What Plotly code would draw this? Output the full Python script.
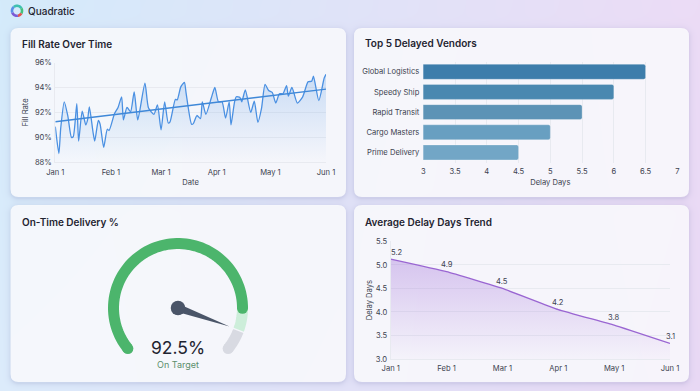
import base64, struct, zlib, math
from datetime import date, timedelta
import numpy as np
import plotly.graph_objects as go

# ---------- data ----------
fill_days = [0,2,3,5,7,9,10,12,13,15,17,18,19,21,22,24,25,27,29,30,33,35,37,38,40,42,44,46,50,52,55,57,59,61,63,64,67,68,70,72,73,76,77,79,81,82,84,87,89,91,93,95,97,98,100,101,103,104,106,109,111,113,115,117,119,121,123,125,127,129,130,132,135,138,141,143,144,147,150,151]
fill_rate = [90.86,88.7,90.7,92.85,91.7,90.0,90.05,92.7,89.7,92.1,91.0,91.4,92.45,90.45,89.7,91.35,91.05,89.2,90.65,90.55,91.9,92.4,93.25,91.4,92.4,92.05,93.65,91.4,94.35,92.35,91.85,92.6,90.6,92.85,91.15,91.25,93.05,93.0,94.05,94.4,93.5,91.05,91.1,91.75,91.5,92.85,91.85,93.15,94.0,92.85,92.85,91.55,92.85,91.0,92.85,93.25,93.2,92.85,93.8,92.0,92.9,91.2,92.3,94.25,93.75,93.6,92.75,93.5,93.5,94.15,93.3,94.0,92.75,93.25,94.45,94.5,94.9,92.95,94.75,95.05]
trend_days = [0, 151]
trend_rate = [91.25, 93.87]
fill_ticks = ["Jan 1", "Feb 1", "Mar 1", "Apr 1", "May 1", "Jun 1"]
fill_tickdays = [0, 31, 59, 90, 120, 151]
fill_yticks = [88, 90, 92, 94, 96]

vendors = ["Global Logistics", "Speedy Ship", "Rapid Transit", "Cargo Masters", "Prime Delivery"]
vendor_delay = [6.5, 6.0, 5.5, 5.0, 4.5]
vendor_colors = ["#3d7dab", "#4a88b0", "#5c93b6", "#689fc1", "#72a6c6"]
delay_xticks = [3, 3.5, 4, 4.5, 5, 5.5, 6, 6.5, 7]
delay_xlabels = ["3", "3.5", "4", "4.5", "5", "5.5", "6", "6.5", "7"]

gauge_value = 92.5
gauge_green_limit = 85

months = ["Jan 1", "Feb 1", "Mar 1", "Apr 1", "May 1", "Jun 1"]
trend_values = [5.12, 4.855, 4.5, 4.05, 3.72, 3.33]
trend_labels = ["5.2", "4.9", "4.5", "4.2", "3.8", "3.1"]
trend_yticks = [3.0, 3.5, 4.0, 4.5, 5.0, 5.5]

# ---------- helpers ----------
W, H = 700, 391
INK, TICK = "#1f2430", "#3d4350"
GRID = "#e8eaf0"
FONT = "Inter"
TICKSIZE = 7.6
def px(x): return x / W
def py(y): return 1 - y / H

CARDS = [(10.5, 28, 346, 197), (354, 28, 689, 197), (10.5, 205, 346, 382), (354, 205, 689, 382)]

def background_png():
    xs = np.linspace(0, 1, W)[None, :, None]
    ys = np.linspace(0, 1, H)[:, None, None]
    tl, tr = np.array([212, 235, 251.]), np.array([236, 220, 246.])
    bl, br = np.array([221, 236, 252.]), np.array([233, 217, 245.])
    img = (1-ys)*((1-xs)*tl + xs*tr) + ys*((1-xs)*bl + xs*br)
    X, Y = np.meshgrid(np.arange(W)+.5, np.arange(H)+.5)
    shadow_col = np.array([120, 125, 175.])
    for x0, y0, x1, y1 in CARDS:
        cx, cy, hw, hh = (x0+x1)/2, (y0+y1)/2 + 1.5, (x1-x0)/2, (y1-y0)/2
        dx = np.abs(X-cx)-hw+8; dy = np.abs(Y-cy)-hh+8
        sd = np.hypot(np.maximum(dx, 0), np.maximum(dy, 0)) + np.minimum(np.maximum(dx, dy), 0) - 8
        a = (0.18*np.exp(-np.maximum(sd, 0)/2.5))[:, :, None]
        img = img*(1-a) + shadow_col*a
    img = img.clip(0, 255).astype(np.uint8)
    raw = b"".join(b"\x00"+img[r].tobytes() for r in range(H))
    def chunk(t, d):
        return struct.pack(">I", len(d))+t+d+struct.pack(">I", zlib.crc32(t+d) & 0xffffffff)
    png = b"\x89PNG\r\n\x1a\n"+chunk(b"IHDR", struct.pack(">IIBBBBB", W, H, 8, 2, 0, 0, 0))+chunk(b"IDAT", zlib.compress(raw))+chunk(b"IEND", b"")
    return "data:image/png;base64,"+base64.b64encode(png).decode()

def card_path(x0, y0, x1, y1, r=8):
    a, b, c, d = px(x0), px(x1), py(y0), py(y1)
    rx, ry = r/W, r/H
    return (f"M{a+rx},{c} L{b-rx},{c} Q{b},{c} {b},{c-ry} L{b},{d+ry} Q{b},{d} {b-rx},{d} "
            f"L{a+rx},{d} Q{a},{d} {a},{d+ry} L{a},{c-ry} Q{a},{c} {a+rx},{c} Z")

def arc_path(cx, cy, r0, r1, a0, a1):
    ts = np.radians(np.linspace(a0, a1, 24))
    pts = [(cx+r1*math.sin(t), cy-r1*math.cos(t)) for t in ts]+[(cx+r0*math.sin(t), cy-r0*math.cos(t)) for t in ts[::-1]]
    return "M"+" L".join(f"{px(x):.5f},{py(y):.5f}" for x, y in pts)+" Z"

def label(x, y, text, size, color=INK, weight=400, anchor="left"):
    return dict(xref="paper", yref="paper", x=px(x), y=py(y), text=text, showarrow=False, xanchor=anchor, yanchor="middle",
                font=dict(family=FONT, size=size, color=color, weight=weight), borderpad=0, borderwidth=0, align=anchor)

fig = go.Figure()
base = date(2023, 1, 1)
d2s = lambda n: (base+timedelta(days=n)).isoformat()

# ---------- fill rate ----------
fig.add_trace(go.Scatter(x=[d2s(d) for d in fill_days], y=fill_rate, mode="lines", xaxis="x", yaxis="y",
    line=dict(color="#4a90e2", width=1.3, shape="spline", smoothing=0.6), fill="tozeroy",
    fillgradient=dict(type="vertical", start=88, stop=95,
                      colorscale=[[0, "rgba(74,144,226,0)"], [1, "rgba(74,144,226,0.25)"]]), showlegend=False))
fig.add_trace(go.Scatter(x=[d2s(d) for d in trend_days], y=trend_rate, mode="lines", xaxis="x", yaxis="y",
    line=dict(color="#3f88d8", width=1.4), showlegend=False))

# ---------- vendors ----------
fig.add_trace(go.Bar(y=vendors, x=vendor_delay, orientation="h", xaxis="x2", yaxis="y2", width=0.74,
    marker=dict(color=vendor_colors, cornerradius=2, line=dict(color="rgba(255,255,255,0.25)", width=1)), showlegend=False))

# ---------- gauge ----------
theta = lambda v: -129 + np.asarray(v, dtype=float)/100*258
R = 64.5/80
def arc(v0, v1, color):
    t = theta(np.linspace(v0, v1, 80))
    fig.add_trace(go.Scatterpolar(r=[R]*80, theta=t, mode="lines", subplot="polar", thetaunit="degrees",
        line=dict(color=color, width=11), showlegend=False, hoverinfo="skip"))
def cap(vs, color):
    fig.add_trace(go.Scatterpolar(r=[R]*len(vs), theta=theta(vs), mode="markers", subplot="polar",
        marker=dict(color=color, size=11), showlegend=False, hoverinfo="skip"))
arc(gauge_value+0.5, 100, "#d8dae2"); cap([100], "#d8dae2")
arc(gauge_green_limit, gauge_value, "#cdeeda")
arc(0, gauge_green_limit, "#4cb56c"); cap([0, gauge_green_limit], "#4cb56c")
tv = float(theta(gauge_value))
fig.add_trace(go.Scatterpolar(r=[54.7/80, 4/80, 4/80, 54.7/80], theta=[tv, tv-90, tv+90, tv], mode="lines", fill="toself",
    subplot="polar", fillcolor="#4a5568", line=dict(color="#4a5568", width=0), showlegend=False, hoverinfo="skip"))
fig.add_trace(go.Scatterpolar(r=[0], theta=[0], mode="markers", subplot="polar",
    marker=dict(color="#4a5568", size=14.5), showlegend=False, hoverinfo="skip"))

# ---------- delay trend ----------
fig.add_trace(go.Scatter(x=months, y=trend_values, mode="lines", xaxis="x3", yaxis="y3",
    line=dict(color="#9a66d2", width=1.4, shape="spline", smoothing=0.3), fill="tozeroy",
    fillgradient=dict(type="vertical", start=3.0, stop=5.15,
                      colorscale=[[0, "rgba(155,105,215,0.02)"], [1, "rgba(155,105,215,0.36)"]]), showlegend=False))

# ---------- layout ----------
def ax(**k):
    d = dict(tickfont=dict(family=FONT, size=TICKSIZE, color=TICK), gridcolor=GRID, gridwidth=1, zeroline=False,
             ticks="", showline=False, automargin=False, title_font=dict(family=FONT, size=TICKSIZE, color=TICK))
    d.update(k)
    return d

shapes = [dict(type="path", xref="paper", yref="paper", path=card_path(*c), fillcolor="rgba(255,255,255,0.8)",
               line=dict(width=0), layer="below") for c in CARDS]
for a0, a1, col in [(-40, 60, "#3fc0b0"), (60, 120, "#45c07a"), (120, 170, "#e0574f"), (170, 250, "#7a5bd6"), (250, 320, "#5a8fe6")]:
    shapes.append(dict(type="path", xref="paper", yref="paper", path=arc_path(17, 10.8, 3.7, 6.3, a0, a1),
                       fillcolor=col, line=dict(width=0), layer="above"))

annots = [
    label(28, 11, "Quadratic", 10, weight=500),
    label(21.5, 44, "Fill Rate Over Time", 10, weight=600),
    label(365, 44, "Top 5 Delayed Vendors", 10, weight=600),
    label(21.5, 222, "On-Time Delivery %", 10, weight=600),
    label(365, 222, "Average Delay Days Trend", 10, weight=600),
    label(178, 347, f"{gauge_value}%", 17.5, weight=400, anchor="center"),
    label(178, 364.5, "On Target", 9, color="#5b8f6c", anchor="center"),
]
xshifts = [6, 0, 0, 0, 0, 0]
yshifts = [7, 7, 7, 7, 8, 7]
for i, (m, v, t) in enumerate(zip(months, trend_values, trend_labels)):
    annots.append(dict(xref="x3", yref="y3", x=m, y=v, text=t, showarrow=False, xshift=xshifts[i], yshift=yshifts[i],
                       font=dict(family=FONT, size=TICKSIZE, color=TICK), yanchor="middle"))

fig.update_layout(
    width=W, height=H, autosize=False, margin=dict(l=0, r=0, t=0, b=0, pad=0),
    paper_bgcolor="#e4e4f8", plot_bgcolor="rgba(0,0,0,0)", shapes=shapes, annotations=annots, bargap=0.26,
    images=[dict(source=background_png(), xref="paper", yref="paper", x=0, y=1, sizex=1, sizey=1, sizing="stretch",
                 xanchor="left", yanchor="top", layer="below")],
    xaxis=ax(domain=[px(55.3), px(326)], anchor="y", type="date", range=[d2s(0), d2s(151)], showgrid=False,
             showline=True, linecolor=GRID, mirror=False, tickvals=[d2s(d) for d in fill_tickdays], ticktext=fill_ticks,
             title=dict(text="Date", standoff=3), ticklabelstandoff=3),
    yaxis=ax(domain=[py(162.3), py(62.5)], anchor="x", range=[88, 96], tickvals=fill_yticks,
             ticktext=[f"{v}%" for v in fill_yticks], showline=True, linecolor=GRID,
             title=dict(text="Fill Rate", standoff=5), ticklabelstandoff=1),
    xaxis2=ax(domain=[px(423.3), px(677.3)], anchor="y2", range=[3, 7], tickvals=delay_xticks, ticktext=delay_xlabels,
              title=dict(text="Delay Days", standoff=4), ticklabelstandoff=3),
    yaxis2=ax(domain=[py(162.5), py(61.7)], anchor="x2", type="category", categoryorder="array", categoryarray=vendors,
              autorange="reversed", showgrid=False, ticklabelstandoff=3),
    xaxis3=ax(domain=[px(390.7), px(670)], anchor="y3", type="category", range=[0, 5], showgrid=False, showline=True,
              linecolor=GRID, ticklabelstandoff=2),
    yaxis3=ax(domain=[py(359), py(241.3)], anchor="x3", range=[3, 5.5], tickvals=trend_yticks,
              ticktext=[f"{v:.1f}" for v in trend_yticks], showline=True, linecolor=GRID,
              title=dict(text="Delay Days", standoff=2), ticklabelstandoff=1),
    polar=dict(domain=dict(x=[px(98), px(258)], y=[py(388), py(228)]), bgcolor="rgba(0,0,0,0)",
               radialaxis=dict(visible=False, range=[0, 1]),
               angularaxis=dict(visible=False, rotation=90, direction="clockwise", thetaunit="degrees")),
)

fig.write_html("out.html", config=dict(displayModeBar=False, responsive=False),
               post_script="document.body.style.margin='0';document.documentElement.style.overflow='hidden';")
